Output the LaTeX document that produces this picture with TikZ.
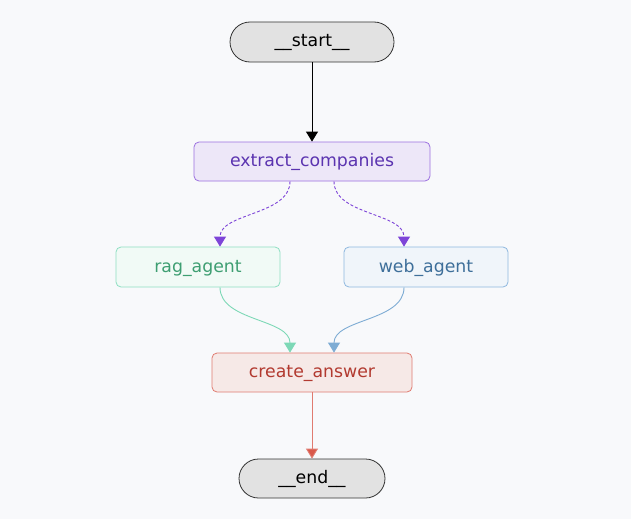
\documentclass[tikz,border=0pt]{standalone}
\usepackage{fontspec}
\setmainfont{DejaVu Sans}
\usetikzlibrary{arrows.meta,shapes.misc}
\definecolor{bg}{HTML}{F8F9FB}
\definecolor{grayfill}{HTML}{E2E2E2}
\definecolor{grayline}{HTML}{333333}
\definecolor{pfill}{HTML}{EDE7F8}
\definecolor{pline}{HTML}{9C70E0}
\definecolor{ptext}{HTML}{5B34B0}
\definecolor{pedge}{HTML}{7E45D8}
\definecolor{gfill}{HTML}{F1FAF6}
\definecolor{gline}{HTML}{8EDFC2}
\definecolor{gtext}{HTML}{3E9E72}
\definecolor{gedge}{HTML}{7DD8B6}
\definecolor{bfill}{HTML}{F0F5FA}
\definecolor{bline}{HTML}{8FB8DF}
\definecolor{btext}{HTML}{3E6F9A}
\definecolor{bedge}{HTML}{7EACD4}
\definecolor{rfill}{HTML}{F6E9E7}
\definecolor{rline}{HTML}{E07B70}
\definecolor{rtext}{HTML}{B23A30}
\definecolor{redge}{HTML}{D9584A}
\tikzset{
  x=1pt, y=-1pt,
  lbl/.style={font=\fontsize{17.3}{19}\selectfont, inner sep=0pt, text height=13pt, text depth=3pt, line width=0.8pt},
  term/.style={lbl, rounded rectangle, draw=grayline, fill=grayfill, text=black},
  box/.style={lbl, rectangle, rounded corners=5pt},
  pbox/.style={box, draw=pline, fill=pfill, text=ptext},
  gbox/.style={box, draw=gline, fill=gfill, text=gtext},
  bbox/.style={box, draw=bline, fill=bfill, text=btext},
  rbox/.style={box, draw=rline, fill=rfill, text=rtext},
  tip/.style={-{Triangle[width=12pt,length=10pt,#1]}},
  edge/.style={line width=0.9pt},
}
\begin{document}
\begin{tikzpicture}
\fill[bg] (0,0) rectangle (631,519);
\useasboundingbox (0,0) rectangle (631,519);
\node[term, minimum width=164pt, minimum height=40pt] (start) at (312,42) {\_\_start\_\_};
\node[pbox, minimum width=236pt, minimum height=39pt] (extract) at (312,161.5) {extract\_companies};
\node[gbox, minimum width=164pt, minimum height=40pt] (rag) at (198,267) {rag\_agent};
\node[bbox, minimum width=164pt, minimum height=40pt] (web) at (426,267) {web\_agent};
\node[rbox, minimum width=200pt, minimum height=39pt] (create) at (312,372.5) {create\_answer};
\node[term, minimum width=146pt, minimum height=39pt] (end) at (312,478.5) {\_\_end\_\_};

\draw[edge, black, tip={fill=black}] (start.south) -- (extract.north);
\draw[edge, pedge, dash pattern=on 3pt off 2pt, tip={fill=pedge}]
  ([xshift=-22pt]extract.south) .. controls +(0,34) and +(0,-34) .. ([xshift=22pt]rag.north);
\draw[edge, pedge, dash pattern=on 3pt off 2pt, tip={fill=pedge}]
  ([xshift=22pt]extract.south) .. controls +(0,34) and +(0,-34) .. ([xshift=-22pt]web.north);
\draw[edge, gedge, tip={fill=gedge}]
  ([xshift=22pt]rag.south) .. controls +(0,34) and +(0,-34) .. ([xshift=-22pt]create.north);
\draw[edge, bedge, tip={fill=bedge}]
  ([xshift=-22pt]web.south) .. controls +(0,34) and +(0,-34) .. ([xshift=22pt]create.north);
\draw[edge, rline, tip={fill=redge}] (create.south) -- (end.north);
\end{tikzpicture}
\end{document}
